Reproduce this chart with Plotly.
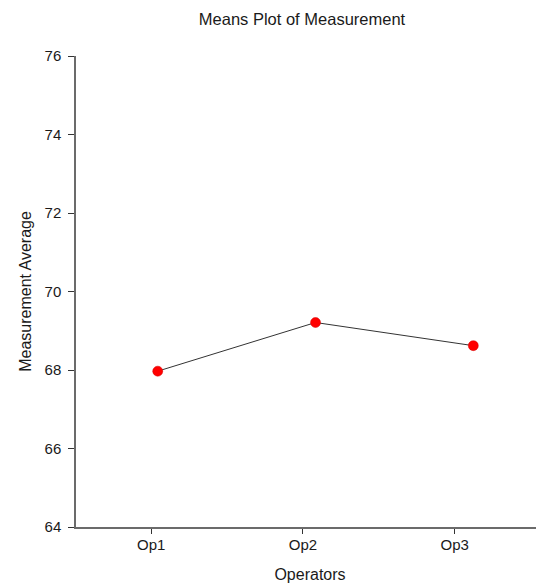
import plotly.graph_objects as go

operators = ["Op1", "Op2", "Op3"]
means = [67.97, 69.21, 68.62]
y_tick_values = [64, 66, 68, 70, 72, 74, 76]

FONT = "Arial, Liberation Sans, sans-serif"
AXIS_COLOR = "#6b6b6b"

fig = go.Figure()
# invisible anchor trace for the labeled category axis
fig.add_trace(go.Scatter(
    x=operators, y=means, mode="markers", marker=dict(opacity=0),
    hoverinfo="skip", showlegend=False, xaxis="x", yaxis="y"))
# the means line with markers
fig.add_trace(go.Scatter(
    x=operators, y=means, mode="lines+markers",
    line=dict(color="#333333", width=1),
    marker=dict(color="#ff0000", size=10, line=dict(color="#d40000", width=0.5)),
    showlegend=False, xaxis="x2", yaxis="y"))

fig.update_layout(
    width=544, height=587,
    margin=dict(l=68, r=8, t=48, b=68, autoexpand=False),
    paper_bgcolor="white", plot_bgcolor="white",
    font=dict(family=FONT, color="#1a1a1a"),
    title=dict(text="Means Plot of Measurement", x=294 / 544, xref="container", xanchor="center",
               y=1 - 11 / 587, yref="container", yanchor="middle",
               font=dict(size=16.5, family=FONT, color="#1a1a1a")),
    xaxis=dict(type="category", categoryorder="array", categoryarray=operators,
               range=[-0.496, 2.589], showline=True, linecolor=AXIS_COLOR, linewidth=1.5,
               ticks="outside", ticklen=5, tickcolor="#333333", tickwidth=1,
               showgrid=False, zeroline=False, tickfont=dict(size=15, family=FONT),
               ticklabelstandoff=-2,
               title=dict(text="Operators", font=dict(size=16, family=FONT), standoff=17),
               automargin=False, fixedrange=True),
    xaxis2=dict(type="category", categoryorder="array", categoryarray=operators,
                overlaying="x", range=[-0.518, 2.448], visible=False, fixedrange=True),
    yaxis=dict(range=[64, 76], tickvals=y_tick_values, showline=True, linecolor=AXIS_COLOR,
               linewidth=1.5, ticks="outside", ticklen=6, tickcolor="#333333", tickwidth=1,
               showgrid=False, zeroline=False, tickfont=dict(size=15, family=FONT),
               ticklabelstandoff=4,
               title=dict(text="Measurement Average", font=dict(size=16, family=FONT), standoff=9),
               automargin=False, fixedrange=True),
)

fig.write_html("out.html")
